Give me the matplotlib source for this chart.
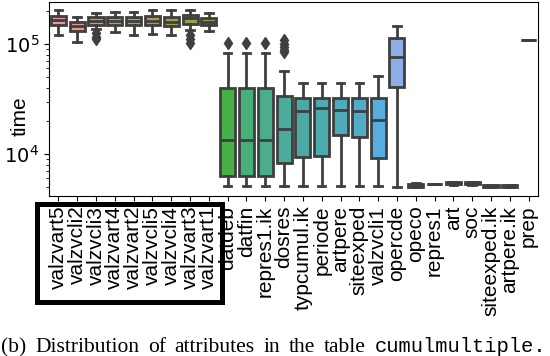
import matplotlib
matplotlib.use("Agg")
import matplotlib.pyplot as plt
from matplotlib.patches import Rectangle
import seaborn as sns

# Attribute names (x categories)
names = ["valzvart5", "valzvcli2", "valzvcli3", "valzvart4", "valzvart2",
         "valzvcli5", "valzvcli4", "valzvart3", "valzvart1", "datdeb",
         "datfin", "repres1.ik", "dosres", "typcumul.ik", "periode",
         "artpere", "siteexped", "valzvcli1", "opercde", "opeco",
         "repres1", "art", "soc", "siteexped.ik", "artpere.ik", "prep"]

# Box statistics
whislo = [1.21e5, 1.04e5, 1.36e5, 1.28e5, 1.21e5, 1.24e5, 1.20e5, 1.34e5, 1.31e5,
          5.12e3, 5.12e3, 5.12e3, 5.12e3, 5.12e3, 5.12e3, 5.12e3, 5.12e3, 5.12e3,
          4.98e3, 5.00e3, 5.37e3, 5.26e3, 5.26e3, 4.98e3, 4.98e3, 1.09e5]
q1 = [1.50e5, 1.31e5, 1.48e5, 1.50e5, 1.50e5, 1.50e5, 1.47e5, 1.53e5, 1.48e5,
      6.31e3, 6.31e3, 6.31e3, 8.34e3, 9.33e3, 9.60e3, 1.48e4, 1.42e4, 9.14e3,
      4.09e4, 5.05e3, 5.37e3, 5.30e3, 5.30e3, 4.98e3, 4.98e3, 1.09e5]
med = [1.64e5, 1.45e5, 1.63e5, 1.63e5, 1.63e5, 1.63e5, 1.60e5, 1.71e5, 1.585e5,
       1.34e4, 1.34e4, 1.34e4, 1.69e4, 2.46e4, 2.64e4, 2.51e4, 2.46e4, 2.04e4,
       7.57e4, 5.20e3, 5.37e3, 5.45e3, 5.45e3, 5.08e3, 5.08e3, 1.09e5]
q3 = [1.80e5, 1.585e5, 1.77e5, 1.77e5, 1.77e5, 1.80e5, 1.77e5, 1.84e5, 1.71e5,
      3.95e4, 3.95e4, 3.95e4, 3.37e4, 3.21e4, 3.21e4, 3.21e4, 3.21e4, 3.21e4,
      1.13e5, 5.35e3, 5.37e3, 5.60e3, 5.60e3, 5.19e3, 5.19e3, 1.09e5]
whishi = [2.04e5, 1.77e5, 1.93e5, 1.94e5, 1.94e5, 2.04e5, 2.04e5, 2.04e5, 1.90e5,
          8.23e4, 8.23e4, 8.23e4, 5.68e4, 4.40e4, 4.40e4, 4.40e4, 4.40e4, 5.12e4,
          1.47e5, 5.50e3, 5.37e3, 5.60e3, 5.60e3, 5.19e3, 5.19e3, 1.09e5]
fliers = [[], [], [1.25e5, 1.17e5, 1.10e5], [], [], [], [], [1.21e5, 1.10e5, 1.03e5], [],
          [1.015e5], [1.015e5], [1.015e5], [1.087e5, 1.0e5, 9.45e4, 8.9e4, 8.46e4],
          [], [], [], [], [], [], [], [], [], [], [], [], []]

# caption words; the last one is set in typewriter type
cap_words = ["(b)", "Distribution", "of", "attributes", "in", "the", "table",
             "cumulmultiple."]

n = len(names)
stats = [dict(whislo=whislo[i], q1=q1[i], med=med[i], q3=q3[i],
              whishi=whishi[i], fliers=fliers[i]) for i in range(n)]

gray = "#3f3f3f"
colors = [sns.desaturate(c, 0.75) for c in sns.husl_palette(n, l=.7)]

W, H = 550, 356
fig = plt.figure(figsize=(W / 100, H / 100), dpi=100)
ax = fig.add_axes([49 / W, 1 - 196 / H, 489 / W, 194 / H])

pos = list(range(n))
bp = ax.bxp(stats, positions=pos, widths=0.8, capwidths=0.4, patch_artist=True,
            boxprops=dict(edgecolor=gray, linewidth=2.0),
            medianprops=dict(color=gray, linewidth=2.0),
            whiskerprops=dict(color=gray, linewidth=2.0),
            capprops=dict(color=gray, linewidth=2.0),
            flierprops=dict(marker="d", markerfacecolor=gray, markeredgecolor=gray,
                            markersize=6))
for patch, c in zip(bp["boxes"], colors):
    patch.set_facecolor(c)

ax.set_yscale("log")
ax.set_ylim(4.15e3, 2.41e5)
ax.set_xlim(-0.5, n - 0.5)
ax.set_xticks(pos)
ax.set_xticklabels(names, rotation=90, fontsize=15, family="Liberation Sans")
ax.tick_params(axis="y", labelsize=14)
ax.set_ylabel("time", fontsize=15, family="Liberation Sans")
ax.yaxis.set_label_coords(-0.04, 0.41)

# frame around the first group of labels
fig.patches.append(Rectangle((37 / W, 1 - 302 / H), 185 / W, 98 / H,
                             transform=fig.transFigure, fill=False,
                             edgecolor="black", linewidth=3.6))

# caption, justified between x=1 and x=546 like a LaTeX line
base_y = 1 - 352 / H
texts = []
for k, word in enumerate(cap_words):
    if k == len(cap_words) - 1:
        t = fig.text(0, base_y, word, family="Liberation Mono", fontsize=14.8,
                     va="baseline")
    else:
        t = fig.text(0, base_y, word, family="Liberation Serif", fontsize=15.5,
                     va="baseline")
    texts.append(t)
fig.canvas.draw()
r = fig.canvas.get_renderer()
widths = [t.get_window_extent(r).width for t in texts]
gap = (546 - 1 - sum(widths)) / (len(texts) - 1)
x = 1.0
for t, w in zip(texts, widths):
    t.set_x(x / W)
    x += w + gap

fig.savefig("out.png", dpi=100)
